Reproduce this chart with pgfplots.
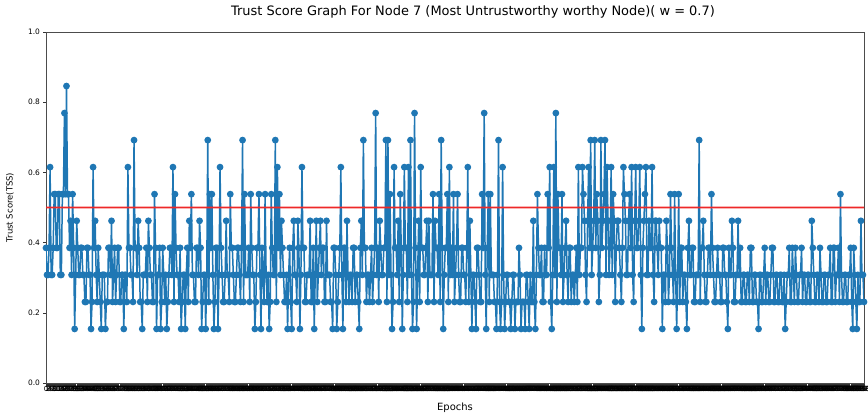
\documentclass[border=0pt]{standalone}
\usepackage{fontspec}
\setmainfont{DejaVu Sans}
\usepackage{pgfplots}
\pgfplotsset{compat=1.18}
\definecolor{mplblue}{RGB}{31,119,180}
\definecolor{mplred}{RGB}{238,40,40}
\begin{document}
\begin{tikzpicture}
\begin{axis}[
  scale only axis, width=818bp, height=351bp,
  xmin=0, xmax=799, ymin=0, ymax=1,
  xtick={0,...,799},
  ytick={0,0.2,0.4,0.6,0.8,1.0},
  /pgf/number format/assume math mode=true,
  yticklabel style={/pgf/number format/.cd, fixed, fixed zerofill, precision=1, /tikz/.cd, font=\fontsize{7.5}{8}\selectfont},
  xticklabel style={font=\fontsize{7}{7}\selectfont, inner sep=1bp},
  tick align=outside, tick pos=left, major tick length=2.5bp,
  tick style={black!80, line width=0.4bp},
  axis line style={black!70, line width=0.6bp},
  every axis title shift=0pt,
  title={Trust Score Graph For Node 7 (Most Untrustworthy worthy Node)( w = 0.7)},
  title style={font=\fontsize{13}{14}\selectfont, at={(axis description cs:0.522,1)}, anchor=center, yshift=20bp},
  xlabel={Epochs},
  xlabel style={font=\fontsize{10}{11}\selectfont, at={(axis description cs:0.5,-0.071)}, anchor=center},
  ylabel={Trust Score(TSS)},
  ylabel style={font=\fontsize{8.5}{9}\selectfont, at={(axis description cs:-0.044,0.5)}, anchor=center},
]
\addplot[color=mplblue, line width=1.5bp, mark=*, mark size=2.6bp, mark options={solid, fill=mplblue, draw=mplblue}]
  table[row sep=\\, header=false, x expr=\coordindex, y index=0]{
0.385\\0.308\\0.308\\0.385\\0.615\\0.308\\0.308\\0.385\\0.538\\0.538\\0.385\\0.385\\0.538\\0.538\\0.308\\0.308\\0.538\\0.538\\0.769\\0.538\\0.846\\0.538\\0.538\\0.385\\0.462\\0.308\\0.538\\0.385\\0.154\\0.308\\0.462\\0.385\\0.308\\0.308\\0.385\\0.385\\0.308\\0.308\\0.231\\0.231\\
0.385\\0.385\\0.308\\0.308\\0.154\\0.231\\0.615\\0.385\\0.462\\0.308\\0.231\\0.385\\0.308\\0.231\\0.154\\0.308\\0.308\\0.308\\0.154\\0.231\\0.231\\0.385\\0.385\\0.308\\0.462\\0.231\\0.308\\0.385\\0.231\\0.308\\0.385\\0.385\\0.231\\0.231\\0.308\\0.308\\0.154\\0.308\\0.308\\0.231\\
0.615\\0.385\\0.385\\0.308\\0.308\\0.231\\0.692\\0.385\\0.385\\0.308\\0.462\\0.385\\0.231\\0.231\\0.154\\0.308\\0.308\\0.308\\0.385\\0.231\\0.462\\0.385\\0.308\\0.308\\0.231\\0.231\\0.538\\0.385\\0.154\\0.308\\0.308\\0.385\\0.154\\0.231\\0.385\\0.308\\0.231\\0.308\\0.154\\0.231\\
0.308\\0.385\\0.385\\0.308\\0.615\\0.231\\0.538\\0.385\\0.308\\0.308\\0.231\\0.385\\0.154\\0.231\\0.308\\0.308\\0.154\\0.308\\0.385\\0.231\\0.462\\0.385\\0.538\\0.308\\0.308\\0.231\\0.231\\0.385\\0.385\\0.308\\0.462\\0.385\\0.154\\0.231\\0.308\\0.308\\0.154\\0.308\\0.692\\0.231\\
0.538\\0.385\\0.538\\0.308\\0.154\\0.231\\0.385\\0.385\\0.154\\0.308\\0.615\\0.385\\0.308\\0.231\\0.231\\0.308\\0.462\\0.308\\0.308\\0.231\\0.538\\0.385\\0.385\\0.308\\0.231\\0.231\\0.308\\0.385\\0.385\\0.308\\0.231\\0.385\\0.692\\0.231\\0.538\\0.308\\0.308\\0.308\\0.385\\0.231\\
0.538\\0.385\\0.308\\0.308\\0.154\\0.231\\0.385\\0.385\\0.538\\0.308\\0.154\\0.385\\0.308\\0.231\\0.538\\0.308\\0.231\\0.308\\0.154\\0.231\\0.538\\0.385\\0.308\\0.308\\0.692\\0.231\\0.615\\0.385\\0.538\\0.308\\0.462\\0.385\\0.308\\0.231\\0.231\\0.308\\0.154\\0.308\\0.385\\0.231\\
0.154\\0.385\\0.462\\0.308\\0.308\\0.231\\0.462\\0.385\\0.154\\0.308\\0.615\\0.385\\0.385\\0.231\\0.231\\0.308\\0.308\\0.308\\0.462\\0.231\\0.231\\0.385\\0.154\\0.308\\0.462\\0.231\\0.308\\0.385\\0.462\\0.308\\0.385\\0.385\\0.231\\0.231\\0.462\\0.308\\0.308\\0.308\\0.231\\0.231\\
0.154\\0.385\\0.385\\0.308\\0.154\\0.231\\0.308\\0.385\\0.615\\0.308\\0.154\\0.385\\0.385\\0.231\\0.462\\0.308\\0.231\\0.308\\0.308\\0.231\\0.385\\0.385\\0.231\\0.308\\0.308\\0.231\\0.154\\0.385\\0.462\\0.308\\0.692\\0.385\\0.385\\0.231\\0.308\\0.308\\0.231\\0.308\\0.385\\0.231\\
0.308\\0.385\\0.769\\0.308\\0.385\\0.231\\0.462\\0.385\\0.308\\0.308\\0.385\\0.385\\0.692\\0.231\\0.692\\0.308\\0.538\\0.308\\0.154\\0.231\\0.615\\0.385\\0.385\\0.308\\0.462\\0.231\\0.538\\0.385\\0.154\\0.308\\0.615\\0.385\\0.385\\0.231\\0.615\\0.308\\0.692\\0.308\\0.154\\0.231\\
0.769\\0.385\\0.154\\0.308\\0.462\\0.231\\0.615\\0.385\\0.385\\0.308\\0.308\\0.385\\0.462\\0.231\\0.462\\0.308\\0.308\\0.308\\0.538\\0.231\\0.462\\0.385\\0.385\\0.308\\0.538\\0.231\\0.692\\0.385\\0.154\\0.308\\0.385\\0.385\\0.538\\0.231\\0.615\\0.308\\0.385\\0.308\\0.538\\0.231\\
0.308\\0.385\\0.538\\0.308\\0.231\\0.231\\0.385\\0.385\\0.308\\0.308\\0.231\\0.385\\0.615\\0.231\\0.462\\0.308\\0.154\\0.308\\0.308\\0.231\\0.154\\0.385\\0.385\\0.308\\0.231\\0.231\\0.538\\0.385\\0.769\\0.308\\0.154\\0.385\\0.538\\0.231\\0.538\\0.308\\0.308\\0.308\\0.231\\0.231\\
0.154\\0.308\\0.692\\0.231\\0.154\\0.231\\0.615\\0.308\\0.154\\0.231\\0.308\\0.308\\0.231\\0.231\\0.154\\0.231\\0.308\\0.308\\0.154\\0.231\\0.231\\0.231\\0.385\\0.308\\0.154\\0.231\\0.231\\0.231\\0.154\\0.308\\0.308\\0.231\\0.154\\0.308\\0.231\\0.231\\0.462\\0.231\\0.154\\0.308\\
0.538\\0.385\\0.308\\0.308\\0.385\\0.231\\0.231\\0.385\\0.308\\0.308\\0.538\\0.385\\0.615\\0.231\\0.154\\0.308\\0.615\\0.308\\0.769\\0.231\\0.538\\0.385\\0.385\\0.308\\0.538\\0.231\\0.308\\0.385\\0.462\\0.308\\0.231\\0.385\\0.385\\0.231\\0.308\\0.308\\0.231\\0.308\\0.385\\0.231\\
0.615\\0.308\\0.385\\0.385\\0.615\\0.538\\0.462\\0.308\\0.231\\0.462\\0.615\\0.385\\0.692\\0.308\\0.385\\0.462\\0.692\\0.385\\0.538\\0.462\\0.231\\0.308\\0.692\\0.385\\0.462\\0.538\\0.692\\0.308\\0.615\\0.462\\0.308\\0.385\\0.615\\0.308\\0.538\\0.462\\0.231\\0.385\\0.462\\0.462\\
0.385\\0.308\\0.231\\0.385\\0.615\\0.538\\0.462\\0.308\\0.308\\0.462\\0.538\\0.385\\0.615\\0.308\\0.231\\0.462\\0.615\\0.385\\0.385\\0.462\\0.615\\0.308\\0.154\\0.385\\0.462\\0.538\\0.615\\0.308\\0.308\\0.462\\0.385\\0.385\\0.615\\0.308\\0.231\\0.462\\0.462\\0.385\\0.308\\0.462\\
0.385\\0.385\\0.154\\0.308\\0.308\\0.231\\0.462\\0.385\\0.231\\0.308\\0.538\\0.385\\0.308\\0.231\\0.538\\0.308\\0.154\\0.308\\0.538\\0.231\\0.385\\0.385\\0.231\\0.308\\0.308\\0.231\\0.154\\0.385\\0.462\\0.308\\0.308\\0.385\\0.385\\0.231\\0.231\\0.308\\0.308\\0.308\\0.692\\0.231\\
0.385\\0.385\\0.462\\0.308\\0.231\\0.231\\0.308\\0.385\\0.385\\0.308\\0.538\\0.385\\0.308\\0.231\\0.231\\0.308\\0.385\\0.308\\0.308\\0.231\\0.231\\0.385\\0.385\\0.308\\0.308\\0.231\\0.154\\0.385\\0.308\\0.308\\0.462\\0.385\\0.231\\0.231\\0.308\\0.308\\0.462\\0.308\\0.385\\0.231\\
0.231\\0.308\\0.308\\0.231\\0.231\\0.308\\0.308\\0.231\\0.385\\0.385\\0.231\\0.231\\0.308\\0.308\\0.231\\0.231\\0.154\\0.308\\0.308\\0.231\\0.231\\0.308\\0.385\\0.231\\0.308\\0.308\\0.231\\0.231\\0.308\\0.385\\0.385\\0.231\\0.231\\0.308\\0.308\\0.231\\0.231\\0.308\\0.308\\0.231\\
0.231\\0.308\\0.154\\0.231\\0.308\\0.308\\0.385\\0.231\\0.231\\0.385\\0.308\\0.231\\0.385\\0.308\\0.231\\0.231\\0.308\\0.308\\0.385\\0.231\\0.308\\0.308\\0.231\\0.231\\0.308\\0.308\\0.231\\0.231\\0.462\\0.385\\0.308\\0.231\\0.231\\0.308\\0.308\\0.231\\0.385\\0.308\\0.231\\0.231\\
0.308\\0.308\\0.231\\0.231\\0.308\\0.308\\0.385\\0.231\\0.231\\0.385\\0.385\\0.231\\0.308\\0.308\\0.385\\0.231\\0.538\\0.308\\0.231\\0.231\\0.308\\0.308\\0.231\\0.231\\0.308\\0.308\\0.385\\0.231\\0.154\\0.385\\0.308\\0.231\\0.154\\0.308\\0.231\\0.231\\0.462\\0.308\\0.308\\0.231\\
};
\addplot[fill=mplred, draw=none, mark=none]
  table[row sep=\\, header=false, x index=0, y index=1]{0 0.4977\\799 0.4977\\799 0.5023\\0 0.5023\\0 0.4977\\};
\end{axis}
\path (current axis.south west) ++(-46bp,-36bp) coordinate (bbA);
\path (current axis.north east) ++(4bp,32bp) coordinate (bbB);
\pgfresetboundingbox
\path[use as bounding box] (bbA) rectangle (bbB);
\end{tikzpicture}
\end{document}
